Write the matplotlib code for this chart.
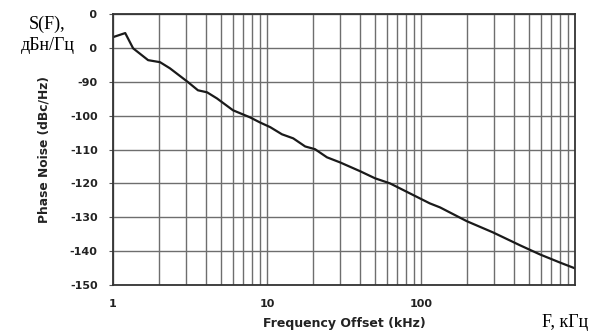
import numpy as np
import matplotlib
matplotlib.use("Agg")
import matplotlib.pyplot as plt
from matplotlib.ticker import LogLocator, NullFormatter, FixedLocator

plt.rcParams["axes.unicode_minus"] = False

# частота отстройки, кГц и фазовый шум, дБн/Гц
freq_khz = [1.0, 1.2, 1.35, 1.69, 2.02, 2.34, 3.07, 3.56, 4.08, 4.73, 6.01,
            7.76, 9.0, 10.5, 12.5, 14.8, 17.7, 20.5, 24.5, 29.8, 40.2, 50.3,
            62.9, 114, 133, 199, 294, 440, 593, 800, 1000]
noise_dbc = [-76.8, -75.6, -80.1, -83.6, -84.2, -86.0, -90.1, -92.5, -93.1,
             -94.9, -98.4, -100.5, -102.0, -103.4, -105.5, -106.7, -109.1,
             -109.9, -112.3, -113.8, -116.4, -118.5, -120.0, -125.9, -127.1,
             -131.2, -134.5, -138.3, -141.0, -143.4, -145.1]

y_ticks = [-70, -80, -90, -100, -110, -120, -130, -140, -150]
x_ticks = [1, 10, 100]
x_tick_labels = ["1", "10", "100"]

fig = plt.figure(figsize=(5.93, 3.36), dpi=100)
ax = fig.add_axes([0.1906, 0.152, 0.779, 0.806])

ax.plot(freq_khz, noise_dbc, color="#1a1a1a", lw=1.6)

ax.set_xscale("log")
ax.set_xlim(1, 1000)
ax.set_ylim(-150, -70)

ax.xaxis.set_major_locator(FixedLocator(x_ticks))
ax.set_xticklabels(x_tick_labels)
ax.xaxis.set_minor_locator(LogLocator(base=10, subs=np.arange(2, 10)))
ax.xaxis.set_minor_formatter(NullFormatter())
ax.set_yticks(y_ticks)

ax.grid(True, which="both", axis="x", color="#6e6e6e", lw=1.0)
ax.grid(True, which="major", axis="y", color="#6e6e6e", lw=1.0)

for s in ax.spines.values():
    s.set_color("#333333")
    s.set_linewidth(1.3)

ax.tick_params(axis="x", which="both", length=0, pad=10)
ax.tick_params(axis="y", length=3, width=0.8, color="#555555", pad=8)
for lab in ax.get_xticklabels() + ax.get_yticklabels():
    lab.set_fontsize(8)
    lab.set_fontweight("bold")
    lab.set_color("#222222")

ax.set_xlabel("Frequency Offset (kHz)", fontsize=9, fontweight="bold",
              color="#222222", labelpad=6)
ax.set_ylabel("Phase Noise (dBc/Hz)", fontsize=8.8, fontweight="bold",
              color="#222222", labelpad=14)

fig.text(0.08, 0.895, "S(F),\nдБн/Гц", family="Liberation Serif",
         fontsize=13, ha="center", va="center", linespacing=1.3,
         bbox=dict(facecolor="white", edgecolor="none", pad=11))
fig.text(0.953, 0.04, "F, кГц", family="Liberation Serif", fontsize=13,
         ha="center", va="center")

fig.savefig("out.png", dpi=100)
